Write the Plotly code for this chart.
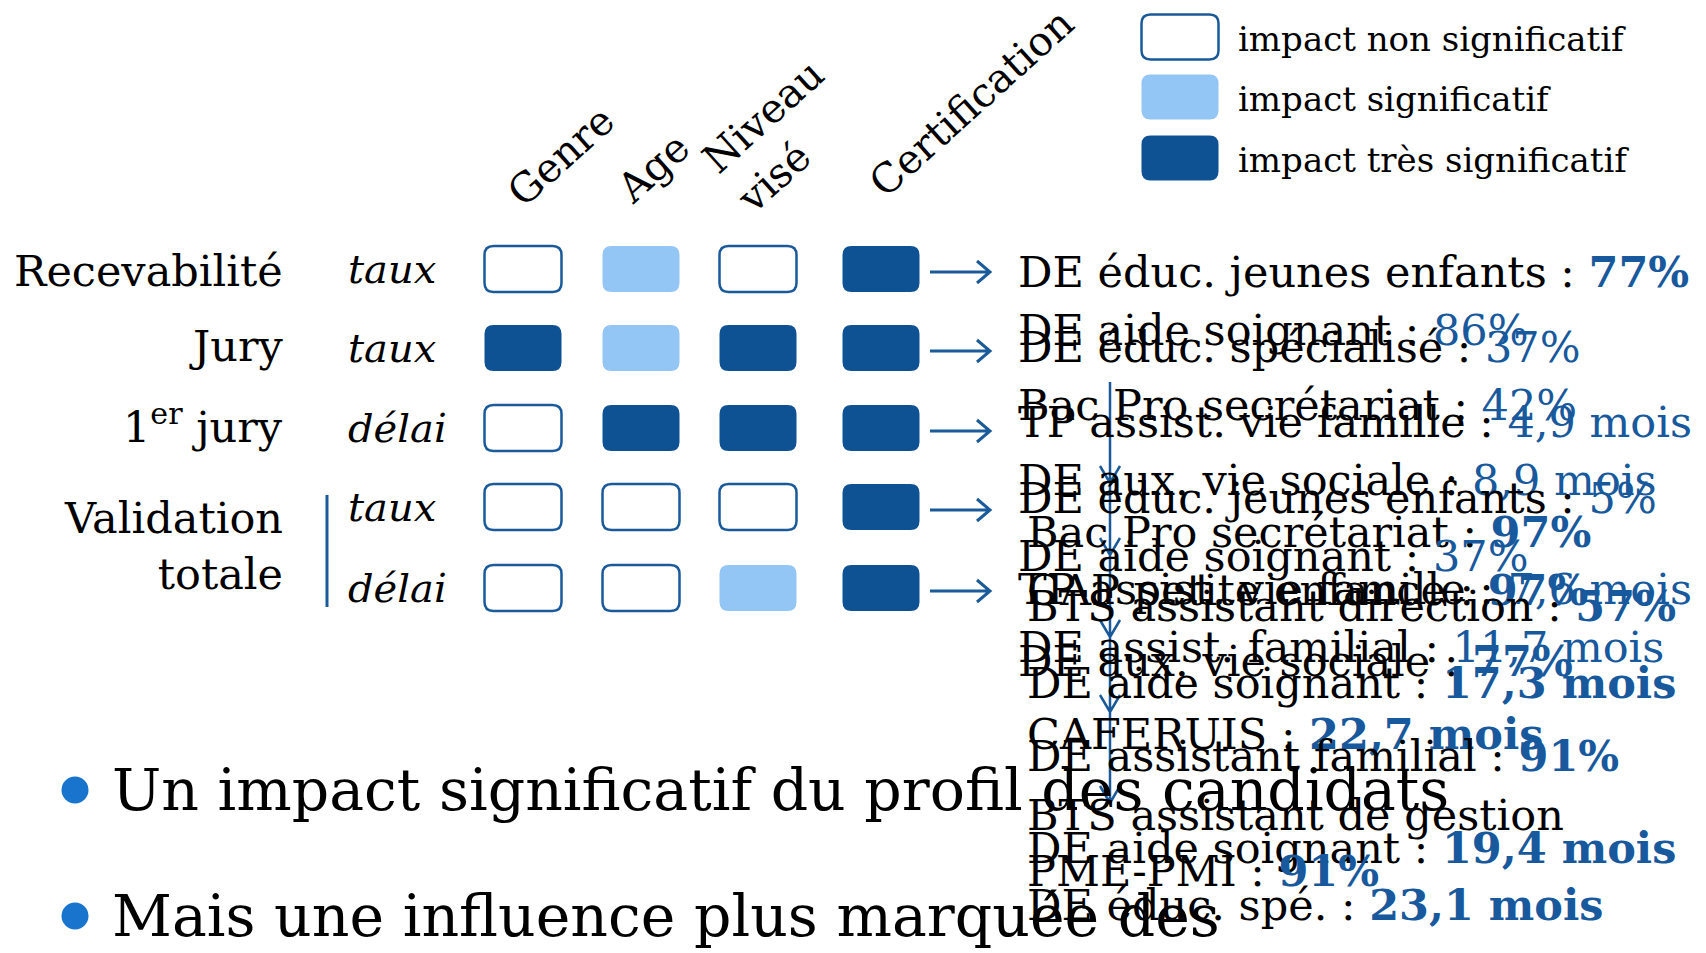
import plotly.graph_objects as go

# ---------------- data ----------------
factors = ["Genre", "Age", "Niveau<br>visé", "Certification"]
stages = ["Recevabilité", "Jury", "1<sup>er</sup> jury", "Validation<br>totale"]
stage_rows = [[0], [1], [2], [3, 4]]
measures = ["taux", "taux", "délai", "taux", "délai"]
# 0 = non significatif, 1 = significatif, 2 = très significatif
impact = [
    [0, 1, 0, 2],
    [2, 1, 2, 2],
    [0, 2, 2, 2],
    [0, 0, 0, 2],
    [0, 0, 1, 2],
]
legend_labels = ["impact non significatif", "impact significatif", "impact très significatif"]

cert_labels = [
    "DE éduc. jeunes enfants : ", "DE aide soignant : ", "DE éduc. spécialisé : ",
    "Bac Pro secrétariat : ", "TP assist. vie famille : ", "DE aux. vie sociale : ",
    "DE éduc. jeunes enfants : ", "Bac Pro secrétariat : ", "DE aide soignant : ",
    "TP assist. vie famille : ", "CAP petite enfance : ", "BTS assistant direction : ",
    "DE assist. familial : ", "DE aux. vie sociale : ", "DE aide soignant : ",
    "CAFERUIS : ", "DE assistant familial : ", "BTS assistant de gestion",
    "DE aide soignant : ", "PME-PMI : ", "DE éduc. spé. : ",
]
cert_values = [
    "77%", "86%", "37%", "42%", "4,9 mois", "8,9 mois", "5%", "97%", "37%",
    "7,6 mois", "97%", "57%", "11,7 mois", "77%", "17,3 mois", "22,7 mois",
    "91%", "", "19,4 mois", "91%", "23,1 mois",
]
cert_bold = [
    True, False, False, False, False, False, False, True, False,
    False, True, True, False, True, True, True, True, False, True, True, True,
]
bullets = [
    "Un impact significatif du profil des candidats",
    "Mais une influence plus marquée des",
]

# ---------------- layout constants ----------------
W, H = 1706, 953
FONT = "DejaVu Serif"
DARK = "#0F5294"
LIGHT = "#94C6F5"
BLUE_TXT = "#17599C"
LINE = "#1A5A9A"
BULLET = "#1874CD"

col_x = [523, 641, 758, 881]
row_y = [269, 348, 428, 507, 588]
box_w, box_h, rad = 77, 46, 9
header_pos = [(561, 156), (653, 168), (780, 136), (971, 103)]
stage_y = [271, 346, 424, 546]
legend_y = [37, 97, 158]
cert_x = [1016, 1016, 1016, 1016, 1016, 1016, 1016, 1025, 1016, 1016, 1025,
          1025, 1016, 1016, 1025, 1025, 1025, 1025, 1025, 1025, 1025]
cert_y = [272, 330, 347, 405, 422, 480, 498, 532, 556, 589, 590, 606, 647,
          661, 683, 734, 756, 815, 848, 871, 905]
vert_tips = [483, 555, 637, 712, 803]
bullet_y = [790, 916]


def rrect(xc, yc, w, h, r):
    x0, x1 = xc - w / 2, xc + w / 2
    y0, y1 = yc - h / 2, yc + h / 2
    return (f"M {x0 + r},{y0} L {x1 - r},{y0} Q {x1},{y0} {x1},{y0 + r} "
            f"L {x1},{y1 - r} Q {x1},{y1} {x1 - r},{y1} L {x0 + r},{y1} "
            f"Q {x0},{y1} {x0},{y1 - r} L {x0},{y0 + r} Q {x0},{y0} {x0 + r},{y0} Z")


level_style = [
    dict(fillcolor="white", line=dict(color=LINE, width=2.5)),
    dict(fillcolor=LIGHT, line=dict(width=0)),
    dict(fillcolor=DARK, line=dict(width=0)),
]

shapes = []
annotations = []

# grid cells
for r, row in enumerate(impact):
    for c, lvl in enumerate(row):
        shapes.append(dict(type="path", xref="x", yref="y",
                           path=rrect(col_x[c], row_y[r], box_w, box_h, rad),
                           **level_style[lvl]))
    # horizontal arrow
    y = row_y[r] + 3
    shapes.append(dict(type="path", xref="x", yref="y",
                       path=f"M 930,{y} L 990,{y} M 977,{y - 11} L 990,{y} L 977,{y + 11}",
                       line=dict(color=LINE, width=3)))
    # measure label
    annotations.append(dict(x=346, y=row_y[r], text=f"<i>{measures[r]}</i>",
                            xanchor="left", yanchor="middle", showarrow=False,
                            font=dict(family=FONT, size=40, color="black")))

# stage labels
for s, lab in enumerate(stages):
    annotations.append(dict(x=285, y=stage_y[s], text=lab, xanchor="right",
                            yanchor="middle", align="right", showarrow=False,
                            font=dict(family=FONT, size=43, color="black")))
# bracket for Validation totale
rows_v = stage_rows[3]
shapes.append(dict(type="line", xref="x", yref="y", x0=327, x1=327,
                   y0=row_y[rows_v[0]] - 12, y1=row_y[rows_v[-1]] + 19,
                   line=dict(color=LINE, width=3)))

# factor headers (rotated)
for f, lab in enumerate(factors):
    annotations.append(dict(x=header_pos[f][0], y=header_pos[f][1],
                            text=lab, textangle=-42, align="left",
                            xanchor="center", yanchor="middle", showarrow=False,
                            font=dict(family=FONT, size=40.5, color="black")))

# legend
for i, lab in enumerate(legend_labels):
    shapes.append(dict(type="path", xref="x", yref="y",
                       path=rrect(1180, legend_y[i], 77, 45, 9), **level_style[i]))
    annotations.append(dict(x=1236, y=legend_y[i] + 2, text=lab, xanchor="left",
                            yanchor="middle", showarrow=False,
                            font=dict(family=FONT, size=34, color="black")))

# certification texts
for lab, val, b, x, y in zip(cert_labels, cert_values, cert_bold, cert_x, cert_y):
    v = f"<b>{val}</b>" if b else val
    txt = lab + (f"<span style='color:{BLUE_TXT}'>{v}</span>" if val else "")
    annotations.append(dict(x=x, y=y, text=txt, xanchor="left", yanchor="middle",
                            showarrow=False,
                            font=dict(family=FONT, size=43, color="black")))

# vertical arrow
vpath = f"M 1110,382 L 1110,{vert_tips[-1]}"
for t in vert_tips:
    vpath += f" M 1100,{t - 17} L 1110,{t} L 1120,{t - 17}"
shapes.append(dict(type="path", xref="x", yref="y", path=vpath,
                   line=dict(color=LINE, width=2.5)))

# bullets
for i, txt in enumerate(bullets):
    annotations.append(dict(x=110, y=bullet_y[i], text=txt, xanchor="left",
                            yanchor="middle", showarrow=False,
                            font=dict(family=FONT, size=58.5, color="black")))

fig = go.Figure()
fig.add_trace(go.Scatter(x=[75] * len(bullets), y=bullet_y, mode="markers",
                         marker=dict(size=27, color=BULLET, symbol="circle"),
                         hoverinfo="skip", showlegend=False))

fig.update_layout(
    width=W, height=H,
    margin=dict(l=0, r=0, t=0, b=0),
    paper_bgcolor="white", plot_bgcolor="white",
    xaxis=dict(range=[0, W], visible=False, fixedrange=True),
    yaxis=dict(range=[H, 0], visible=False, fixedrange=True),
    shapes=shapes, annotations=annotations, showlegend=False,
)

fig.write_html("out.html", config={"displayModeBar": False},
               post_script="document.body.style.margin='0';")
